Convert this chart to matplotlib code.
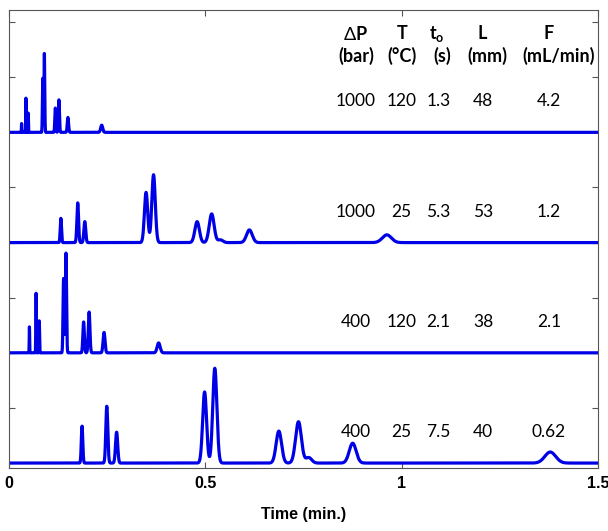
import matplotlib.pyplot as plt
import numpy as np

plt.rcParams['font.family'] = ['Lato', 'DejaVu Sans']
plt.rcParams['mathtext.fontset'] = 'custom'
plt.rcParams['mathtext.rm'] = 'Lato'
plt.rcParams['mathtext.bf'] = 'Lato:bold'

# peak retention times (min) and heights, one list per chromatogram (top to bottom)
rt_1 = [0.032, 0.043, 0.049, 0.086, 0.090, 0.118, 0.127, 0.150, 0.236]
h_1 = [0.16, 0.62, 0.35, 0.98, 1.43, 0.44, 0.59, 0.27, 0.13]

rt_2 = [0.132, 0.175, 0.193, 0.349, 0.368, 0.479, 0.516, 0.538, 0.612, 0.962]
h_2 = [0.44, 0.72, 0.38, 0.91, 1.23, 0.38, 0.52, 0.05, 0.23, 0.14]

rt_3 = [0.052, 0.069, 0.077, 0.139, 0.145, 0.190, 0.204, 0.242, 0.381]
h_3 = [0.47, 1.08, 0.58, 1.35, 1.81, 0.56, 0.74, 0.37, 0.18]

rt_4 = [0.186, 0.249, 0.274, 0.498, 0.524, 0.687, 0.737, 0.763, 0.875, 1.378]
h_4 = [0.67, 1.03, 0.56, 1.29, 1.72, 0.58, 0.75, 0.10, 0.36, 0.20]

# relative peak width (sigma / retention time) for each run
rel_width = [0.011, 0.012, 0.010, 0.010]
offsets = [6, 4, 2, 0]

# conditions table
header_top = [r'$\Delta$P', 'T', r'$\mathbf{t_o}$', 'L', 'F']
header_unit = ['(bar)', '(°C)', '(s)', '(mm)', '(mL/min)']
top_x = [0.883, 1.002, 1.088, 1.206, 1.375]
unit_x = [0.885, 1.0, 1.104, 1.218, 1.40]
pressure = ['1000', '1000', '400', '400']
temperature = ['120', '25', '120', '25']
t0 = ['1.3', '5.3', '2.1', '7.5']
length = ['48', '53', '38', '40']
flow = ['4.2', '1.2', '2.1', '0.62']
col_x = [0.883, 1.0, 1.094, 1.207, 1.375]

t = np.linspace(0, 1.5, 6000)

fig = plt.figure(figsize=(6.08, 5.31), dpi=100)
ax = fig.add_axes([0.0148, 0.1186, 0.969, 0.8626])

all_rt = [rt_1, rt_2, rt_3, rt_4]
all_h = [h_1, h_2, h_3, h_4]
for rts, hs, k, off in zip(all_rt, all_h, rel_width, offsets):
    y = np.zeros_like(t)
    for r, h in zip(rts, hs):
        s = k * r
        y += h * np.exp(-0.5 * ((t - r) / s) ** 2)
    ax.plot(t, y + off, color='#0000e6', lw=2.3, solid_joinstyle='round')

# table text
for x, txt in zip(top_x, header_top):
    ax.text(x, 7.79, txt, ha='center', va='center', fontsize=13, fontweight='bold')
for x, txt in zip(unit_x, header_unit):
    ax.text(x, 7.38, txt, ha='center', va='center', fontsize=13, fontweight='bold')
rows = list(zip(pressure, temperature, t0, length, flow))
for off, row in zip(offsets, rows):
    for x, txt in zip(col_x, row):
        ax.text(x, off + 0.56, txt, ha='center', va='center', fontsize=12.5)

ax.set_xlim(0, 1.5)
ax.set_ylim(-0.09, 8.22)
ax.set_xticks([0, 0.5, 1, 1.5])
ax.set_xticklabels(['0', '0.5', '1', '1.5'], fontweight='bold', fontsize=11.5,
                   family=['Liberation Sans'])
ax.set_yticks(range(0, 9))
ax.set_yticklabels([])
ax.tick_params(direction='in', top=True, right=True, length=4, width=0.8,
               color='#555555', pad=6)
for sp in ax.spines.values():
    sp.set_color('#555555')
    sp.set_linewidth(0.8)
ax.set_xlabel('Time (min.)', fontweight='bold', fontsize=11.5,
              family=['Liberation Sans'], labelpad=11)

fig.savefig('out.png', dpi=100)
